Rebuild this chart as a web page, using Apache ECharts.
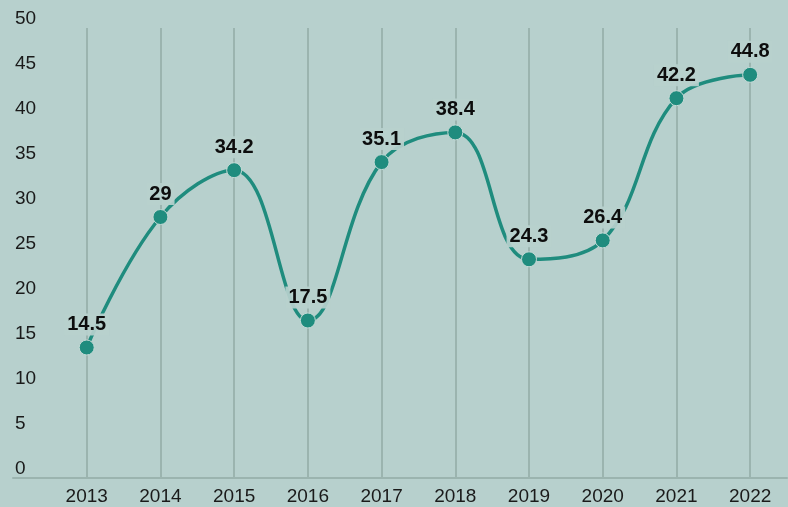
<!DOCTYPE html>
<html>
<head>
<meta charset="utf-8">
<script src="https://cdn.jsdelivr.net/npm/echarts@6/dist/echarts.min.js"></script>
<style>
  html, body { margin: 0; padding: 0; background: #b7d0cd; }
  #chart { width: 788px; height: 507px; }
</style>
</head>
<body>
<div id="chart"></div>
<script>
const years = [2013, 2014, 2015, 2016, 2017, 2018, 2019, 2020, 2021, 2022]
const values = [14.5, 29, 34.2, 17.5, 35.1, 38.4, 24.3, 26.4, 42.2, 44.8]

const bg = '#b7d0cd'
const gridColor = '#9bb4af'
const teal = '#1f8c7e'

const chart = echarts.init(document.getElementById('chart'))

// first (2012) and trailing split lines hidden, the rest drawn
const splitColors = ['rgba(0,0,0,0)']
for (let i = 0; i < 10; i++) splitColors.push(gridColor)
splitColors.push('rgba(0,0,0,0)')

chart.setOption({
  backgroundColor: bg,
  animation: false,
  grid: {
    left: 13,
    right: 1,
    top: 28,
    bottom: 29,
    containLabel: false
  },
  xAxis: {
    type: 'value',
    min: 2012,
    max: 2022.5,
    interval: 1,
    axisLine: {
      show: true,
      onZero: false,
      lineStyle: { color: gridColor, width: 2 }
    },
    axisTick: { show: false },
    splitLine: {
      show: true,
      lineStyle: { color: splitColors, width: 2 }
    },
    axisLabel: {
      color: '#1a1a1a',
      fontFamily: 'Liberation Sans, Arial, sans-serif',
      fontSize: 19,
      margin: 9,
      showMaxLabel: false,
      formatter(v) {
        return Number.isInteger(v) && v >= years[0] ? String(v) : ''
      }
    }
  },
  yAxis: {
    type: 'value',
    min: 0,
    max: 50,
    interval: 5,
    axisLine: { show: false },
    axisTick: { show: false },
    splitLine: { show: false },
    axisLabel: {
      inside: true,
      margin: 2,
      verticalAlign: 'bottom',
      color: '#1a1a1a',
      fontFamily: 'Liberation Sans, Arial, sans-serif',
      fontSize: 19
    }
  },
  series: [
    {
      type: 'line',
      smooth: 0.4,
      data: years.map((y, i) => [y, values[i]]),
      lineStyle: { color: teal, width: 3.5 },
      symbol: 'circle',
      symbolSize: 15,
      itemStyle: {
        color: teal,
        borderColor: '#c4dad6',
        borderWidth: 1
      },
      label: {
        show: true,
        position: 'top',
        distance: 4,
        color: '#0d0d0d',
        fontWeight: 'bold',
        fontFamily: 'Liberation Sans, Arial, sans-serif',
        fontSize: 20,
        backgroundColor: 'rgba(183,208,205,0.92)',
        padding: [1, 3, 1, 3],
        formatter(p) {
          return String(p.value[1])
        }
      }
    }
  ]
})
</script>
</body>
</html>
